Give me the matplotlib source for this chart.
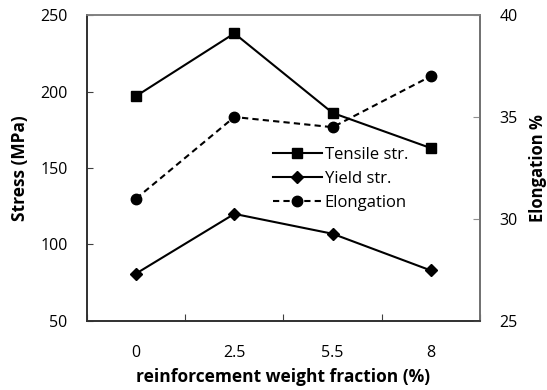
import matplotlib
matplotlib.use("Agg")
import matplotlib.pyplot as plt

# reinforcement weight fractions (categorical axis)
fractions = ["0", "2.5", "5.5", "8"]
tensile = [197, 238, 186, 163]
yield_str = [81, 120, 107, 83]
elongation = [31.0, 35.0, 34.5, 37.0]

plt.rcParams["font.family"] = ["Open Sans", "DejaVu Sans"]

fig = plt.figure(figsize=(5.47, 3.9), dpi=100)
ax = fig.add_axes([0.159, 0.177, 0.7185, 0.7845])
ax2 = ax.twinx()

x = [i + 0.5 for i in range(len(fractions))]

l1, = ax.plot(x, tensile, color="black", lw=1.5, marker="s", ms=7.5,
              label="Tensile str.")
l2, = ax.plot(x, yield_str, color="black", lw=1.5, marker="D", ms=6.5,
              label="Yield str.")
l3, = ax2.plot(x, elongation, color="black", lw=1.5, ls=(0, (3, 2)),
               marker="o", ms=7.5, label="Elongation")

ax.set_xlim(0, len(fractions))
ax.set_ylim(50, 250)
ax2.set_ylim(25, 40)
ax.set_yticks(range(50, 251, 50))
ax2.set_yticks(range(25, 41, 5))

# category labels centred, tick marks between categories
ax.set_xticks(range(len(fractions) + 1))
ax.set_xticklabels([])
ax.set_xticks(x, minor=True)
ax.set_xticklabels(fractions, minor=True)
ax.tick_params(axis="x", which="minor", length=0, pad=17, labelsize=11.5)
ax.tick_params(axis="x", which="major", direction="in", length=5, color="#404040")

ax.tick_params(axis="y", direction="in", length=4, color="#404040",
               labelsize=11.5, pad=14)
ax2.tick_params(axis="y", direction="in", length=5, color="#909090",
                labelsize=11.5, pad=14)

for a in (ax, ax2):
    a.spines["left"].set_color("#303030")
    a.spines["bottom"].set_color("#303030")
    a.spines["top"].set_color("#808080")
    a.spines["right"].set_color("#707070")
    for s in a.spines.values():
        s.set_linewidth(1.2)

ax.set_xlabel("reinforcement weight fraction (%)", fontsize=12.5,
              fontweight="bold", labelpad=5)
ax.set_ylabel("Stress (MPa)", fontsize=12.5, fontweight="bold", labelpad=8)
ax2.set_ylabel("Elongation %", fontsize=12, fontweight="bold", labelpad=8)

fig.legend(handles=[l1, l2, l3], loc="upper left",
           bbox_to_anchor=(0.4875, 0.64), frameon=False, fontsize=12,
           handlelength=2.9, handletextpad=0.18, labelspacing=0.48,
           borderaxespad=0)

fig.savefig("out.png", dpi=100)
